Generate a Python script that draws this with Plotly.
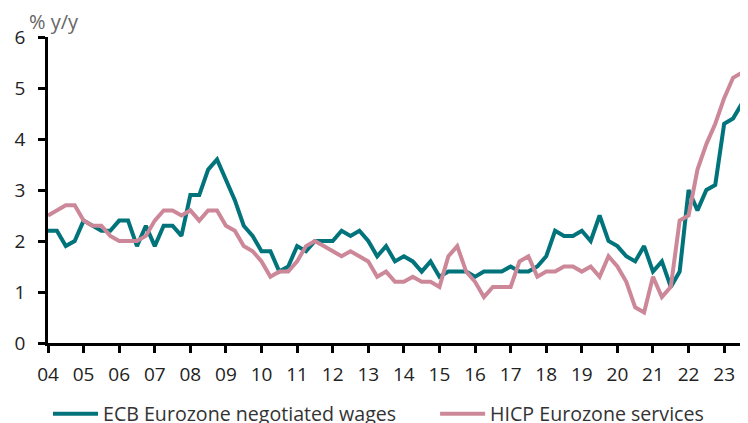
import plotly.graph_objects as go

# Quarterly data, 2004Q1 .. 2023Q4
start_year = 2004
wages = [2.2, 2.2, 1.9, 2.0,
         2.4, 2.3, 2.2, 2.2,
         2.4, 2.4, 1.9, 2.3,
         1.9, 2.3, 2.3, 2.1,
         2.9, 2.9, 3.4, 3.6,
         3.2, 2.8, 2.3, 2.1,
         1.8, 1.8, 1.4, 1.5,
         1.9, 1.8, 2.0, 2.0,
         2.0, 2.2, 2.1, 2.2,
         2.0, 1.7, 1.9, 1.6,
         1.7, 1.6, 1.4, 1.6,
         1.3, 1.4, 1.4, 1.4,
         1.3, 1.4, 1.4, 1.4,
         1.5, 1.4, 1.4, 1.5,
         1.7, 2.2, 2.1, 2.1,
         2.2, 2.0, 2.5, 2.0,
         1.9, 1.7, 1.6, 1.9,
         1.4, 1.6, 1.1, 1.4,
         3.0, 2.6, 3.0, 3.1,
         4.3, 4.4, 4.7, 4.4]
services = [2.5, 2.6, 2.7, 2.7,
            2.4, 2.3, 2.3, 2.1,
            2.0, 2.0, 2.0, 2.1,
            2.4, 2.6, 2.6, 2.5,
            2.6, 2.4, 2.6, 2.6,
            2.3, 2.2, 1.9, 1.8,
            1.6, 1.3, 1.4, 1.4,
            1.6, 1.9, 2.0, 1.9,
            1.8, 1.7, 1.8, 1.7,
            1.6, 1.3, 1.4, 1.2,
            1.2, 1.3, 1.2, 1.2,
            1.1, 1.7, 1.9, 1.4,
            1.2, 0.9, 1.1, 1.1,
            1.1, 1.6, 1.7, 1.3,
            1.4, 1.4, 1.5, 1.5,
            1.4, 1.5, 1.3, 1.7,
            1.5, 1.2, 0.7, 0.6,
            1.3, 0.9, 1.1, 2.4,
            2.5, 3.4, 3.9, 4.3,
            4.8, 5.2, 5.3, 4.1]
x = [start_year + i / 4 for i in range(len(wages))]
tick_years = list(range(2004, 2024))
tick_labels = [f"{y % 100:02d}" for y in tick_years]

TEAL = "#00737B"
PINK = "#CC8899"
FONT = "Open Sans"

fig = go.Figure()
fig.add_trace(go.Scatter(x=x, y=wages, mode="lines", name="ECB Eurozone negotiated wages",
                         line=dict(color=TEAL, width=4), legend="legend"))
fig.add_trace(go.Scatter(x=x, y=services, mode="lines", name="HICP Eurozone services",
                         line=dict(color=PINK, width=4), legend="legend2"))

leg_common = dict(orientation="h", yanchor="middle", y=-0.232, itemwidth=45,
                  font=dict(family=FONT, size=19.6, color="#333333"),
                  bgcolor="rgba(0,0,0,0)", xanchor="left")

fig.update_layout(
    width=748, height=423,
    margin=dict(l=40, r=8, t=29, b=88, autoexpand=False),
    paper_bgcolor="white", plot_bgcolor="white",
    font=dict(family=FONT, size=19, color="#222222"),
    showlegend=True,
    legend=dict(x=0.0, **leg_common),
    legend2=dict(x=0.553, **leg_common),
    xaxis=dict(range=[2004, 2023.67], tickvals=tick_years, ticktext=tick_labels,
               automargin=False,
               showgrid=False, zeroline=False, showline=True, linecolor="black", linewidth=2.5,
               ticks="outside", ticklen=7, tickwidth=2.5, tickcolor="black",
               ticklabelstandoff=5,
               tickfont=dict(family=FONT, size=19, color="#222222")),
    yaxis=dict(range=[0, 6], tickvals=[0, 1, 2, 3, 4, 5, 6],
               automargin=False,
               showgrid=False, zeroline=False, showline=True, linecolor="black", linewidth=2.5,
               ticks="outside", ticklen=7, tickwidth=2.5, tickcolor="black",
               ticklabelstandoff=9,
               tickfont=dict(family=FONT, size=19, color="#222222")),
)
fig.add_annotation(text="% y/y", xref="paper", yref="paper", x=-0.03, y=1.0, yshift=16,
                   xanchor="left", yanchor="middle", showarrow=False,
                   font=dict(family=FONT, size=20, color="#666666"))

fig.write_html("out.html")
